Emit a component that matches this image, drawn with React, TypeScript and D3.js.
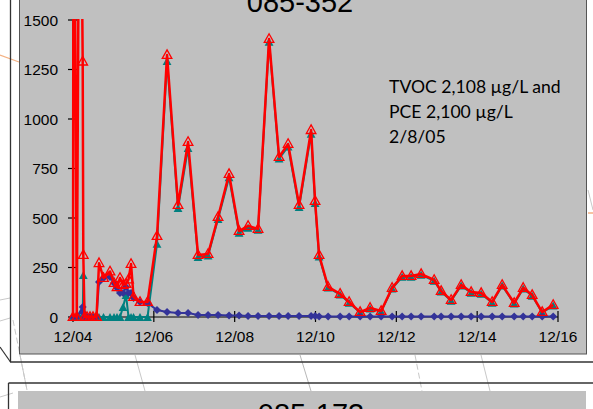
import React from "react";
import * as d3 from "d3";

// days after 12/04 (00:00)
const times = [
  0.0, 0.015, 0.094, 0.168, 0.24, 0.255, 0.285, 0.347, 0.421, 0.495, 0.582,
  0.644, 0.755, 0.916, 1.015, 1.089, 1.163, 1.238, 1.312, 1.374, 1.436, 1.498,
  1.658, 1.844, 2.079, 2.327, 2.599, 2.847, 3.094, 3.342, 3.589, 3.861, 4.109,
  4.332, 4.579, 4.851, 5.099, 5.322, 5.594, 5.891, 5.99, 6.089, 6.312, 6.609,
  6.832, 7.104, 7.351, 7.624, 7.896, 8.144, 8.366, 8.614, 8.936, 9.109, 9.356,
  9.604, 9.851, 10.099, 10.371, 10.619, 10.916, 11.139, 11.361, 11.609, 11.881,
];
const tvoc: (number | null)[] = [
  0, 3000, 0, 3000, 1290, 313, 0, 0, 0, 0, 0,
  272, 197, 230, 172, 150, 197, 162, 167, 190, 268, 101,
  76, 76, 409, 1323, 566, 884, 313, 318, 505, 722, 434,
  460, 445, 1404, 808, 874, 566, 944, 586, 313, 152, 117,
  76, 25, 46, 30, 147, 207, 207, 217, 187, 131, 86,
  162, 126, 121, 76, 162, 71, 147, 111, 25, 61,
];
const pce: (number | null)[] = [
  0, 0, 0, 0, 0, 212, 0, 0, 0, 0, 0,
  0, 0, 0, 0, 0, 0, 50, 110, 0, 0, 0,
  0, 0, 370, 1293, 550, 853, 303, 310, 495, 705, 425,
  450, 440, 1390, 800, 860, 555, 925, 575, 305, 148, 113,
  72, 22, 42, 27, 143, 203, 203, 213, 183, 128, 82,
  158, 122, 117, 72, 158, 68, 143, 107, 22, 57,
];
const tce: (number | null)[] = [
  0, null, 0, null, 50, 20, 0, 0, 0, 0, 0,
  177, 197, 202, 172, 146, 121, 121, 152, 121, 121, 96,
  76, 71, 35, 25, 20, 20, 10, 10, 10, 8, 8,
  5, 5, 5, 5, 5, 5, 5, 5, 3, 3, 3,
  3, 3, 3, 3, 2, 2, 2, 2, 2, 2, 2,
  2, 2, 2, 2, 2, 2, 2, 2, 2, 2,
];
const yTicks = [0, 250, 500, 750, 1000, 1250, 1500];
const xTicks = [0, 2, 4, 6, 8, 10, 12];
const xTickLabels = ["12/04", "12/06", "12/08", "12/10", "12/12", "12/14", "12/16"];
const title = "085-352";
const nextTitle = "085-173";
const noteLines = ["TVOC 2,108 \u00b5g/L and", "PCE 2,100 \u00b5g/L", "2/8/05"];

export default function App() {
  const x = d3.scaleLinear().domain([0, 12]).range([73, 558]);
  const y = d3.scaleLinear().domain([0, 1500]).range([317, 20]);
  const mk = (vals: (number | null)[]) =>
    times.map((t, i) => ({ t, v: vals[i] })).filter((d) => d.v != null) as { t: number; v: number }[];
  const line = d3
    .line<{ t: number; v: number }>()
    .x((d) => x(d.t))
    .y((d) => y(d.v));
  const red = mk(tvoc);
  const teal = mk(pce);
  const blue = mk(tce);
  const axisFont = "'Liberation Sans', Arial, sans-serif";
  const tri = "M0,-5.2L4.8,3.4L-4.8,3.4Z";
  const triF = "M0,-4.6L4.4,3.4L-4.4,3.4Z";
  const dia = "M0,-4L4,0L0,4L-4,0Z";
  return (
    <svg width={593} height={409} style={{ position: "absolute", left: 0, top: 0, background: "#fff" }}>
      <defs>
        <clipPath id="plotclip">
          <rect x={0} y={19} width={593} height={330} />
        </clipPath>
      </defs>
      {/* background remnants */}
      <line x1={0} y1={55} x2={19} y2={62} stroke="#f4b183" strokeWidth={1.2} />
      <line x1={0} y1={300} x2={10} y2={298} stroke="#c8c8c8" strokeWidth={1} />
      <line x1={0} y1={321} x2={10} y2={318} stroke="#c8c8c8" strokeWidth={1} />
      <line x1={13} y1={320} x2={27} y2={390} stroke="#c8c8c8" strokeWidth={1} strokeDasharray="6 3" />
      <line x1={0} y1={397} x2={13} y2={393} stroke="#c8c8c8" strokeWidth={1} />
      <line x1={20} y1={355} x2={27} y2={390} stroke="#c8c8c8" strokeWidth={1} />
      <line x1={135} y1={355} x2={145} y2={391} stroke="#c8c8c8" strokeWidth={1} />
      <line x1={300} y1={355} x2={311} y2={391} stroke="#b8b8b8" strokeWidth={1} />
      <line x1={415} y1={355} x2={422} y2={391} stroke="#c8c8c8" strokeWidth={1} strokeDasharray="6 3" />
      <line x1={481} y1={355} x2={490} y2={391} stroke="#c8c8c8" strokeWidth={1} />
      <line x1={588} y1={190} x2={593} y2={210} stroke="#c8c8c8" strokeWidth={1} />
      <line x1={588} y1={213} x2={593} y2={213} stroke="#f4b183" strokeWidth={1.5} />
      {/* frames */}
      <line x1={10.5} y1={0} x2={10.5} y2={362} stroke="#333" strokeWidth={1.3} />
      <line x1={0} y1={347} x2={10.5} y2={362} stroke="#333" strokeWidth={1.2} />
      <line x1={10} y1={362} x2={593} y2={362} stroke="#333" strokeWidth={1.3} />
      <line x1={8.5} y1={383} x2={593} y2={383} stroke="#333" strokeWidth={1.3} />
      <line x1={8.5} y1={383} x2={8.5} y2={409} stroke="#333" strokeWidth={1.3} />
      <rect x={18} y={391} width={568} height={30} fill="#c0c0c0" />
      <text x={311} y={424} textAnchor="middle" fontFamily={axisFont} fontSize={29} fill="#000">
        {nextTitle}
      </text>
      <rect x={19.5} y={-2} width={567} height={356} fill="#c0c0c0" stroke="#555" strokeWidth={1} />
      <text x={300} y={12} textAnchor="middle" fontFamily={axisFont} fontSize={29} fill="#000">
        {title}
      </text>
      {noteLines.map((s, i) => (
        <text key={i} x={389} y={93 + i * 25} fontFamily="Lato, 'Open Sans', sans-serif" fontSize={17.6} fill="#000">
          {s}
        </text>
      ))}
      {/* axes */}
      <line x1={73} y1={20} x2={73} y2={317} stroke="#000" strokeWidth={1.2} />
      <line x1={73} y1={317} x2={558} y2={317} stroke="#000" strokeWidth={1.2} />
      {yTicks.map((v) => (
        <g key={v}>
          <line x1={68} x2={78} y1={y(v)} y2={y(v)} stroke="#000" strokeWidth={1.2} />
          <text x={58} y={y(v)} dy="0.36em" textAnchor="end" fontFamily={axisFont} fontSize={15.5} fill="#000">
            {v}
          </text>
        </g>
      ))}
      {xTicks.map((t, i) => (
        <g key={t}>
          <line x1={x(t)} x2={x(t)} y1={311} y2={322} stroke="#000" strokeWidth={1.2} />
          <text x={x(t)} y={342} textAnchor="middle" fontFamily={axisFont} fontSize={15.5} fill="#000">
            {xTickLabels[i]}
          </text>
        </g>
      ))}
      <g clipPath="url(#plotclip)">
        <path d={line(teal) || ""} fill="none" stroke="#008080" strokeWidth={2} />
        {teal.map((d, i) => (
          <path key={i} d={triF} transform={`translate(${x(d.t)},${y(d.v) + 0.5})`} fill="#008080" />
        ))}
        <path d={line(blue) || ""} fill="none" stroke="#333399" strokeWidth={2} />
        {blue.map((d, i) => (
          <path key={i} d={dia} transform={`translate(${x(d.t)},${y(d.v)})`} fill="#333399" />
        ))}
        <path d={line(red) || ""} fill="none" stroke="#ff0000" strokeWidth={2.5} strokeLinejoin="round" />
        {red.map((d, i) => (
          <path
            key={i}
            d={tri}
            transform={`translate(${x(d.t)},${y(d.v)})`}
            fill="none"
            stroke="#ff0000"
            strokeWidth={1.3}
          />
        ))}
      </g>
    </svg>
  );
}
